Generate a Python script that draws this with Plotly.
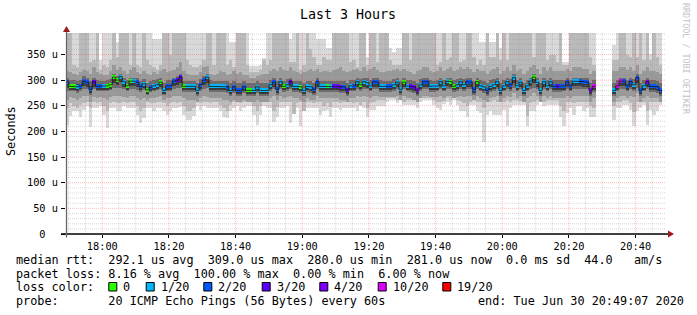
import plotly.graph_objects as go
import pandas as pd

N = None
# ---- data: one value per minute (bin start 17:49 ... 20:48) ----
times = pd.date_range("2020-06-30 17:49:00", periods=180, freq="min")

median = [297,288,288,287,289,298,296,282,297,288,288,288,289,291,306,
          300,307,297,289,298,298,296,288,293,281,286,289,291,296,280,
          289,289,298,300,306,288,288,288,288,280,291,300,306,288,288,
          288,288,288,287,280,287,280,280,287,280,280,280,287,280,280,
          280,291,296,282,297,288,291,297,288,288,287,280,288,287,282,
          297,288,288,288,288,288,288,287,287,280,289,289,297,291,297,
          295,289,297,296,288,288,288,288,291,296,282,296,289,288,287,
          280,291,297,297,288,288,289,297,289,298,297,288,291,297,291,
          297,296,282,297,289,287,280,288,291,297,280,289,297,291,305,
          289,296,280,289,298,306,296,280,297,289,297,288,288,288,289,
          297,289,298,298,298,297,296,280,288,N,N,N,N,N,280,
          289,298,298,289,297,291,305,280,289,297,288,288,287,280,N]

loss_idx = [2,0,0,1,2,2,2,2,3,2,2,1,0,0,0,
            0,1,1,0,0,1,2,2,1,0,2,1,1,0,1,
            2,2,2,3,3,0,1,1,1,1,2,2,1,1,1,
            1,1,1,2,1,2,2,2,2,0,0,1,1,1,1,
            1,1,2,2,1,0,1,3,1,1,0,1,1,1,2,
            2,1,1,0,1,3,3,3,2,3,1,2,1,0,1,
            1,1,2,2,1,1,2,2,1,1,1,0,1,3,3,
            4,1,2,2,1,1,1,1,1,1,0,0,1,1,1,
            2,2,2,0,1,1,2,1,1,1,1,1,1,2,1,
            1,1,1,1,1,0,1,1,1,1,1,2,3,2,2,
            2,2,1,1,2,2,2,4,5,N,N,N,N,N,1,
            5,5,2,2,2,1,2,2,1,4,2,2,2,2,N]

# smoke: nested ping-distribution bands (outer -> inner)
s1_lo = [213,231,239,239,229,242,249,209,245,245,249,232,206,245,245,
         240,240,249,245,245,245,232,217,226,245,245,240,245,245,240,
         232,240,245,245,248,232,222,222,231,249,242,249,245,245,245,
         245,239,229,227,239,245,249,239,245,249,249,232,213,232,249,
         245,245,219,229,245,245,249,216,240,245,210,239,245,245,245,
         245,232,239,242,229,245,245,242,245,245,245,245,240,249,245,
         229,242,242,249,249,249,258,262,262,255,262,252,252,252,252,
         245,258,262,262,262,252,245,242,253,258,252,262,252,239,239,
         229,252,252,239,236,180,232,239,232,232,232,242,210,245,252,
         252,252,252,210,239,239,252,258,249,252,252,252,252,229,210,
         236,245,232,249,249,239,245,229,229,N,N,N,N,N,223,
         245,245,252,252,242,210,239,245,252,213,242,232,239,252,N]
s1_hi = [392,392,392,392,392,392,392,392,392,392,340,392,392,392,392,
         375,392,392,392,392,392,392,392,392,392,392,380,380,380,392,
         392,392,392,392,392,392,392,392,392,392,392,392,392,392,392,
         380,392,392,392,375,375,392,392,392,392,327,327,327,330,343,
         392,392,392,392,392,392,392,380,392,392,392,392,392,392,392,
         380,380,380,362,362,392,392,392,392,392,392,392,392,392,392,
         345,392,392,392,392,392,392,362,355,362,362,392,392,392,392,
         392,392,392,392,392,392,392,392,392,392,392,392,392,392,392,
         392,392,392,392,375,375,392,375,375,392,362,392,392,392,392,
         392,392,392,392,392,392,392,392,392,392,392,392,392,392,335,
         335,392,392,392,392,392,392,392,392,N,N,N,N,N,369,
         392,392,392,392,392,392,392,392,392,392,352,392,392,392,N]
s2_lo = [245,255,250,245,252,255,258,245,258,255,258,250,240,255,258,
         255,255,258,255,258,258,250,240,245,258,255,255,258,258,255,
         250,255,258,255,258,250,240,240,245,258,255,258,258,255,258,
         258,252,245,240,252,258,258,255,258,258,258,250,240,250,258,
         258,258,240,248,258,258,258,258,235,255,258,240,258,258,255,
         258,258,250,255,248,258,258,255,258,258,258,255,258,252,258,
         245,255,258,262,262,262,265,265,265,262,265,258,262,262,262,
         258,265,265,265,265,262,258,258,260,265,262,265,262,260,255,
         250,258,262,258,258,245,258,258,262,258,258,258,262,258,262,
         262,260,262,230,255,258,262,265,258,262,262,262,262,250,240,
         258,258,255,258,258,258,258,250,245,N,N,N,N,N,250,
         258,258,262,262,255,238,258,258,258,240,258,258,258,258,N]
s2_hi = [392,392,330,325,392,392,392,335,340,392,320,330,325,340,392,
         345,392,392,392,330,392,330,325,392,340,330,325,320,330,392,
         392,350,392,392,392,392,340,330,325,325,330,340,392,392,330,
         392,392,392,330,340,325,392,392,392,330,315,315,315,320,340,
         330,340,392,392,392,392,392,335,335,392,320,330,392,360,345,
         330,330,345,340,340,392,392,392,392,392,335,340,325,392,392,
         330,392,392,335,392,392,392,340,330,330,330,392,392,340,392,
         392,392,392,392,392,392,330,335,392,340,345,392,392,335,340,
         392,392,345,330,340,330,392,345,345,392,340,392,340,392,392,
         392,392,392,392,392,345,392,392,392,340,350,350,335,392,330,
         330,392,392,392,392,392,392,345,330,N,N,N,N,N,340,
         340,392,392,350,345,392,345,392,340,392,340,392,345,330,N]
s3_lo = [262,268,265,262,265,270,270,258,268,265,268,265,262,268,270,
         270,270,268,265,270,270,265,262,265,262,265,265,268,270,262,
         265,265,270,270,270,265,262,262,262,258,265,270,268,265,265,
         265,265,262,262,258,262,258,258,262,258,258,258,262,258,258,
         258,265,270,262,270,265,268,270,265,265,262,258,265,262,262,
         270,265,265,265,265,265,265,262,262,258,265,265,270,268,270,
         268,265,270,270,268,268,268,268,268,270,262,270,265,265,262,
         258,265,270,270,268,268,268,270,265,270,270,265,268,270,268,
         270,270,262,270,265,262,258,265,268,270,258,265,270,268,275,
         265,270,258,265,270,275,270,258,270,265,270,265,265,265,265,
         270,265,270,270,270,270,270,258,265,N,N,N,N,N,258,
         265,270,270,265,270,268,275,258,265,270,265,265,265,258,N]
s3_hi = [318,315,312,310,315,320,318,312,325,315,312,310,310,318,330,
         320,325,318,312,320,325,315,312,318,312,310,315,312,318,322,
         315,318,320,325,335,318,312,310,310,310,315,325,328,312,310,
         312,318,315,310,312,318,312,315,310,310,305,305,308,310,312,
         312,318,322,318,325,320,318,325,318,315,312,315,318,322,318,
         322,315,318,318,315,320,322,325,318,315,318,320,322,318,325,
         318,322,325,320,315,315,318,318,320,322,318,322,318,315,312,
         318,320,325,325,318,315,318,325,318,322,325,318,320,325,322,
         325,322,315,322,318,318,312,318,322,325,312,318,325,318,330,
         318,322,312,318,325,330,322,312,325,318,325,318,318,318,318,
         322,318,325,325,325,322,322,312,318,N,N,N,N,N,318,
         318,325,325,320,325,318,330,312,318,325,318,318,315,312,N]
s4_lo = [278,278,278,275,278,282,282,272,282,278,278,278,278,280,285,
         285,285,282,278,282,282,280,276,280,272,276,278,280,282,272,
         278,278,282,285,285,276,276,276,276,270,278,282,285,276,276,
         276,276,276,275,270,275,270,270,275,270,270,270,275,270,270,
         270,278,282,272,282,276,278,282,276,276,275,270,276,275,272,
         282,276,276,276,276,276,276,275,275,270,278,278,282,278,282,
         282,278,282,282,276,276,276,276,278,282,272,282,278,276,275,
         270,278,282,282,276,276,278,282,278,282,282,276,278,282,278,
         282,282,272,282,278,275,270,276,278,282,270,278,282,278,285,
         278,282,270,278,282,285,282,270,282,278,282,276,276,276,278,
         282,278,282,282,282,282,282,270,276,N,N,N,N,N,270,
         278,282,282,278,282,278,285,270,278,282,276,276,275,270,N]
s4_hi = [305,300,300,298,300,308,305,298,305,300,298,298,300,302,312,
         308,312,305,300,305,305,305,298,302,295,298,300,302,305,295,
         300,300,305,308,312,298,298,298,298,295,302,308,312,300,298,
         298,298,298,298,295,298,295,295,298,295,295,295,298,295,295,
         295,300,305,298,305,298,302,305,298,298,298,295,298,298,295,
         305,298,298,298,298,298,298,298,298,295,300,300,305,302,305,
         305,300,305,305,300,298,298,298,302,305,298,305,300,300,298,
         295,302,305,305,300,298,300,305,300,305,305,300,302,305,302,
         305,305,298,305,300,298,295,300,302,305,295,300,305,302,312,
         300,305,295,300,305,312,305,295,305,300,305,300,300,300,300,
         305,300,305,305,305,305,305,295,300,N,N,N,N,N,295,
         300,305,305,300,305,302,312,295,300,305,300,300,298,295,N]
s5_lo = [285,280,280,278,282,288,286,275,286,280,280,280,281,283,295,
         290,296,286,281,288,288,286,280,284,273,278,281,283,286,273,
         281,281,288,290,295,280,280,280,280,273,283,290,295,280,280,
         280,280,280,279,273,279,273,273,279,273,273,273,279,273,273,
         273,283,286,275,286,280,283,286,280,280,279,273,280,279,275,
         286,280,280,280,280,280,280,279,279,273,281,281,286,283,286,
         285,281,286,286,280,280,280,280,283,286,275,286,281,280,279,
         273,283,286,286,280,280,281,286,281,288,286,280,283,286,283,
         286,286,275,286,281,279,273,280,283,286,273,281,286,283,295,
         281,286,273,281,288,295,286,273,286,281,286,280,280,280,281,
         286,281,288,288,288,286,286,273,280,N,N,N,N,N,273,
         281,288,288,281,286,283,295,273,281,286,280,280,279,273,N]
s5_hi = [300,292,292,292,293,302,300,288,300,292,292,292,293,295,309,
         304,310,300,293,302,302,300,292,297,285,290,293,295,300,285,
         293,293,302,304,309,292,292,292,292,285,295,304,309,292,292,
         292,292,292,291,285,291,285,285,291,285,285,285,291,285,285,
         285,295,300,287,300,292,295,300,292,292,291,285,292,291,287,
         300,292,292,292,292,292,292,291,291,285,293,293,300,295,300,
         298,293,300,300,292,292,292,292,295,300,287,300,293,292,291,
         285,295,300,300,292,292,293,300,293,302,300,292,295,300,295,
         300,300,287,300,293,291,285,292,295,300,285,293,300,295,308,
         293,300,285,293,302,309,300,285,300,293,300,292,292,292,293,
         300,293,302,302,302,300,300,285,292,N,N,N,N,N,285,
         293,302,302,293,300,295,308,285,293,300,292,292,291,285,N]

loss_labels = ["0", "1/20", "2/20", "3/20", "4/20", "10/20", "19/20"]
loss_colors = ["#26ff00", "#00b8ff", "#0059ff", "#5e00ff", "#7e00ff", "#dd00ff", "#ff0000"]
smoke_colors = ["#d9d9d9", "#bababa", "#9a9a9a", "#6c6c6c", "#3a3a3a"]

ytick_vals = [0, 50, 100, 150, 200, 250, 300, 350]
ytick_text = ["0\u00a0\u00a0", "50 u", "100 u", "150 u", "200 u", "250 u", "300 u", "350 u"]

title = "Last 3 Hours"
stat_rtt = ["292.1", "309.0", "280.0", "281.0", "0.0", "44.0"]
stat_loss = ["8.16", "100.00", "0.00", "6.00"]
probe_text = "20 ICMP Echo Pings (56 Bytes) every 60s"
end_text = "end: Tue Jun 30 20:49:07 2020"

# ---- geometry of the canvas ----
W, H = 697, 315
L, R, T, B = 66, 31, 33, 81
PW, PH = W - L - R, H - T - B
YMAX = 392
MONO = "DejaVu Sans Mono"

def px(x):
    return (x - L) / PW

def py(y):
    return (T + PH - y) / PH

centers = times + pd.Timedelta(seconds=30)

fig = go.Figure()
bands = [(s1_lo, s1_hi), (s2_lo, s2_hi), (s3_lo, s3_hi), (s4_lo, s4_hi), (s5_lo, s5_hi)]
for (lo, hi), col in zip(bands, smoke_colors):
    fig.add_trace(go.Bar(
        x=centers, base=lo,
        y=[(h - l) if (h is not None and l is not None) else None for l, h in zip(lo, hi)],
        width=60000, marker=dict(color=col, line=dict(width=0)),
        hoverinfo="skip", showlegend=False))

# black step connector of the median
sx, sy = [], []
for i, m in enumerate(median):
    if m is None:
        sx.append(times[i]); sy.append(None)
        continue
    sx += [times[i], times[i] + pd.Timedelta(minutes=1)]
    sy += [m, m]
fig.add_trace(go.Scatter(x=sx, y=sy, mode="lines", line=dict(color="#111111", width=0.8),
                         connectgaps=False, hoverinfo="skip", showlegend=False))

# coloured median marks
fig.add_trace(go.Bar(
    x=centers,
    base=[m - 3.8 if m is not None else None for m in median],
    y=[7.6 if m is not None else None for m in median],
    width=60000,
    marker=dict(color=[loss_colors[c] if c is not None else "#ffffff" for c in loss_idx],
                line=dict(width=0)),
    hoverinfo="skip", showlegend=False))

shapes = []
# grid (drawn above the smoke, like rrdtool)
MAJ = "rgba(255,0,0,0.27)"
MIN = "rgba(128,128,128,0.30)"
for t in pd.date_range("2020-06-30 17:50", "2020-06-30 20:45", freq="5min"):
    major = t.minute % 20 == 0
    shapes.append(dict(type="line", xref="x", yref="paper", x0=t, x1=t, y0=0, y1=1, layer="above",
                       line=dict(color=MAJ if major else MIN, width=1, dash="1px,1px")))
for v in range(10, YMAX, 10):
    major = v % 50 == 0
    shapes.append(dict(type="line", xref="paper", yref="y", x0=0, x1=1, y0=v, y1=v, layer="above",
                       line=dict(color=MAJ if major else MIN, width=1, dash="1px,1px")))
# axes with arrows
shapes.append(dict(type="line", xref="paper", yref="paper", x0=px(61), x1=px(669), y0=0, y1=0,
                   layer="above", line=dict(color="#000000", width=1.3)))
shapes.append(dict(type="line", xref="paper", yref="paper", x0=px(66.5), x1=px(66.5), y0=py(237.5), y1=py(30),
                   layer="above", line=dict(color="#666666", width=1.3)))
shapes.append(dict(type="path", xref="paper", yref="paper", layer="above",
                   path=f"M {px(668)} {py(230.5)} L {px(674)} {py(234)} L {px(668)} {py(237.5)} Z",
                   fillcolor="#9c1a1a", line=dict(width=0)))
shapes.append(dict(type="path", xref="paper", yref="paper", layer="above",
                   path=f"M {px(63)} {py(32)} L {px(66.5)} {py(26)} L {px(70)} {py(32)} Z",
                   fillcolor="#9c1a1a", line=dict(width=0)))

annotations = []

def text(x, y, s, size=11.8, anchor="left", color="#000000", angle=0):
    annotations.append(dict(xref="paper", yref="paper", x=px(x), y=py(y), text=s.replace(" ", "\u00a0"),
                            showarrow=False, xanchor=anchor, yanchor="middle", textangle=angle,
                            borderpad=0, borderwidth=0,
                            font=dict(family=MONO, size=size, color=color)))

text(348, 14, title, size=13.3, anchor="center")
text(11, 131, "Seconds", size=11.8, anchor="center", angle=-90)
text(686, 59, "RRDTOOL / TOBI OETIKER", size=8.4, anchor="center", color="#c4c4c4", angle=90)

line1 = ("median rtt:  %s us avg  %s us max  %s us min  %s us now  %s ms sd  %s   am/s"
         % tuple(stat_rtt))
line2 = "packet loss: %s %% avg  %s %% max  %s %% min  %s %% now" % tuple(stat_loss)
text(16, 259.5, line1)
text(16, 273.5, line2)
text(16, 287, "loss color:")
box_x = [108.3, 145.7, 203.3, 261.7, 319.3, 377.7, 442.3]
for bx, lab, col in zip(box_x, loss_labels, loss_colors):
    shapes.append(dict(type="rect", xref="paper", yref="paper", x0=px(bx + 0.5), x1=px(bx + 8.5),
                       y0=py(291), y1=py(282.5), fillcolor=col, line=dict(color="#000000", width=1)))
    text(bx + 15, 287, lab)
text(16, 301, "probe:       " + probe_text)
text(478.3, 301, end_text)

fig.update_layout(
    width=W, height=H, margin=dict(l=L, r=R, t=T, b=B, pad=0),
    paper_bgcolor="#ffffff", plot_bgcolor="#ffffff",
    barmode="overlay", bargap=0, showlegend=False,
    shapes=shapes, annotations=annotations,
    xaxis=dict(type="date", range=["2020-06-30 17:49:07", "2020-06-30 20:49:07"],
               tick0="2020-06-30 18:00:00", dtick=1200000, tickformat="%H:%M",
               showgrid=False, zeroline=False, showline=False,
               ticks="outside", ticklen=3, tickcolor="#000000",
               tickfont=dict(family=MONO, size=10.3, color="#000000"), fixedrange=True),
    yaxis=dict(range=[0, YMAX], tickvals=ytick_vals, ticktext=ytick_text,
               showgrid=False, zeroline=False, showline=False,
               ticks="outside", ticklen=4, tickcolor="#000000", ticklabelstandoff=1,
               tickfont=dict(family=MONO, size=10.3, color="#000000"), fixedrange=True),
)

fig.write_html("out.html")
